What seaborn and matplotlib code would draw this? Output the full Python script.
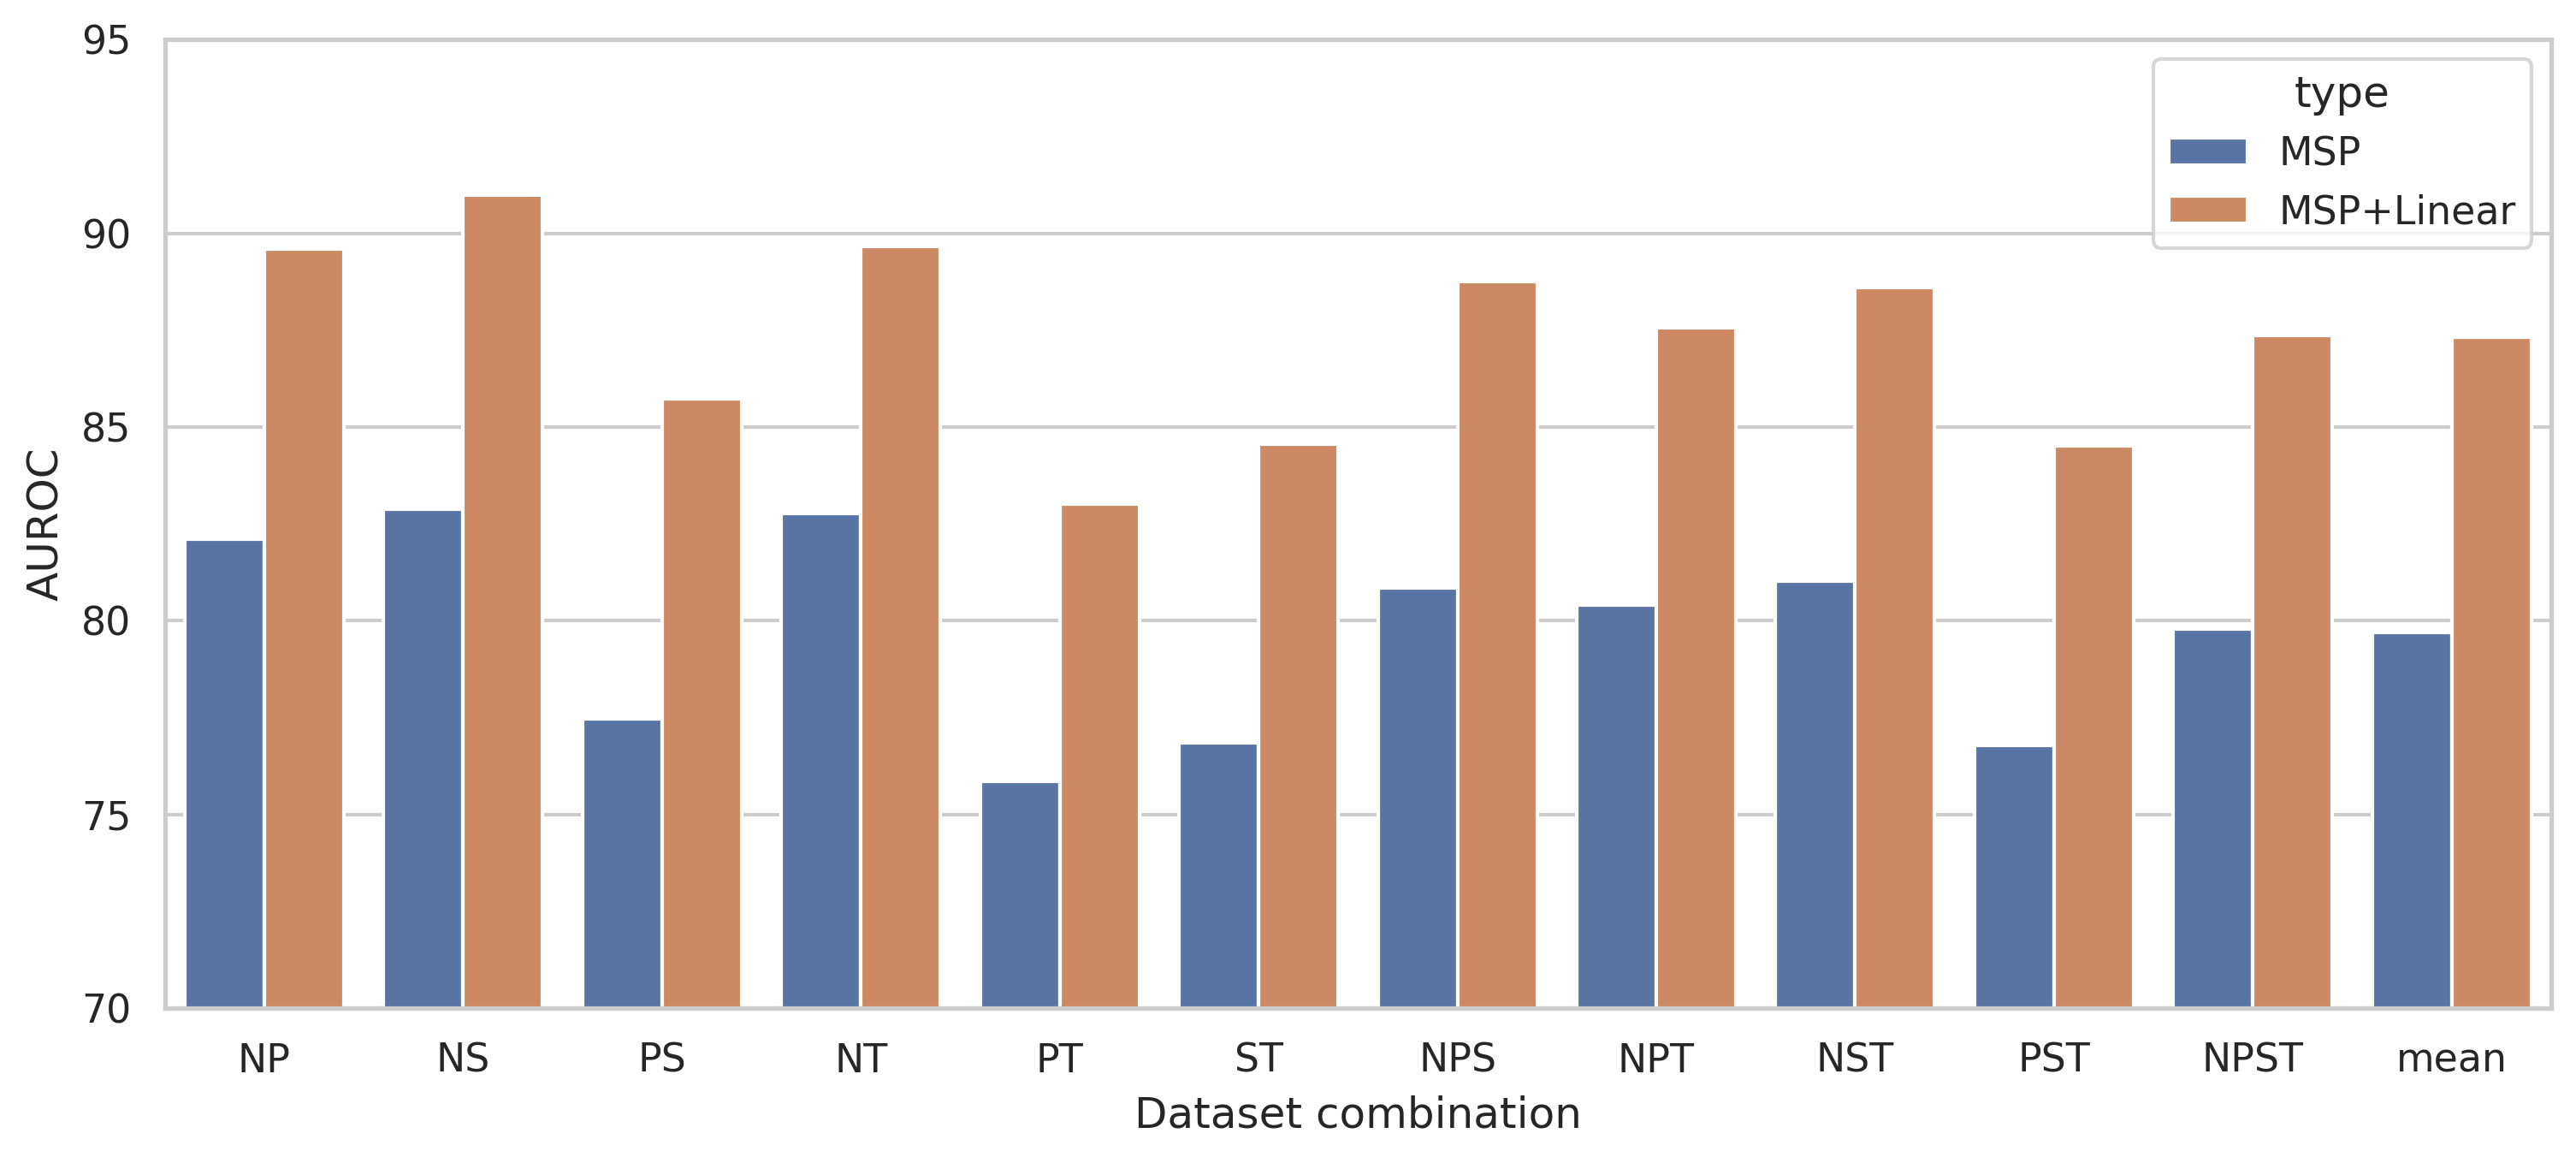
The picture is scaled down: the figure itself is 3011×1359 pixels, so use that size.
import numpy as np
import pandas as pd
import seaborn as sns
import matplotlib
matplotlib.use("Agg")
import matplotlib.pyplot as plt

categories = ["NP", "NS", "PS", "NT", "PT", "ST", "NPS", "NPT", "NST", "PST", "NPST", "mean"]
msp = [82.11, 82.89, 77.48, 82.78, 75.86, 76.85, 80.84, 80.41, 81.03, 76.79, 79.79, 79.71]
msp_linear = [89.60, 90.98, 85.74, 89.66, 83.02, 84.55, 88.76, 87.57, 88.59, 84.52, 87.37, 87.31]
types = ["MSP", "MSP+Linear"]

df = pd.DataFrame({
    "Dataset combination": categories * 2,
    "AUROC": msp + msp_linear,
    "type": [types[0]] * len(categories) + [types[1]] * len(categories),
})

sns.set_theme(style="whitegrid")
fig, ax = plt.subplots(figsize=(3012 / 300, 1359 / 300), dpi=300)
sns.barplot(data=df, x="Dataset combination", y="AUROC", hue="type", ax=ax)
ax.set_ylim(70, 95)
ax.set_yticks([70, 75, 80, 85, 90, 95])
ax.legend(title="type", loc="upper right")
fig.subplots_adjust(left=0.064, right=0.990, top=0.966, bottom=0.133)
fig.savefig("out.png", dpi=300)
